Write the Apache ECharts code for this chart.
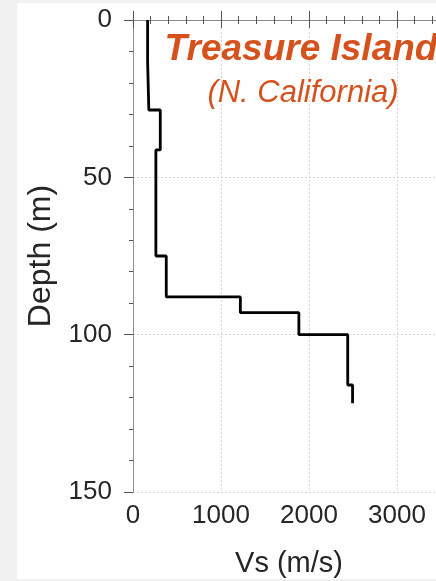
<!DOCTYPE html>
<html>
<head>
<meta charset="utf-8">
<style>
  html, body { margin: 0; padding: 0; background: #f1f1f1; }
  #chart { width: 436px; height: 581px; }
</style>
<script src="https://cdn.jsdelivr.net/npm/echarts@6/dist/echarts.min.js"></script>
</head>
<body>
<div id="chart"></div>
<script>
// Shear-wave velocity profile: one entry per layer
const layerTop    = [0,    13.2, 28.6, 41.3, 75,  88,   93,   100,  116];
const layerBottom = [13.2, 28.6, 41.3, 75,   88,  93,   100,  116,  121.8];
const layerVs     = [166,  180,  310,  260,  378, 1220, 1885, 2440, 2495];

const xTicks = [0, 1000, 2000, 3000];
const yTicks = [0, 50, 100, 150];

// Stair-step polyline through the layers (Vs, depth)
const profile = [];
layerVs.forEach(function (vs, i) {
  profile.push([vs, layerTop[i]]);
  profile.push([vs, layerBottom[i]]);
});

const FONT = '"Liberation Sans", Arial, sans-serif';
const axisGray = '#8a8a8a';
const gridGray = '#d6d6d6';
const textDark = '#262626';
const titleColor = '#d5521d';

const chart = echarts.init(document.getElementById('chart'), null, { renderer: 'canvas' });

chart.setOption({
  backgroundColor: '#f1f1f1',
  animation: false,
  graphic: [{
    type: 'rect',
    z: -10,
    shape: { x: 17, y: 3, width: 419, height: 576 },
    style: { fill: '#ffffff' }
  }],
  title: [{
    text: 'Treasure Island',
    left: 296, top: 26, textAlign: 'center',
    textStyle: { fontFamily: FONT, fontSize: 37, fontWeight: 'bold', fontStyle: 'italic', color: titleColor }
  }, {
    text: '(N. California)',
    left: 298, top: 73, textAlign: 'center',
    textStyle: { fontFamily: FONT, fontSize: 31, fontWeight: 'normal', fontStyle: 'italic', color: titleColor }
  }],
  grid: { left: 133, top: 20, width: 352, height: 472, containLabel: false, outerBoundsMode: 'none' },
  xAxis: [{
    type: 'value', position: 'bottom',
    min: xTicks[0], max: 4000, interval: 1000,
    name: 'Vs (m/s)', nameLocation: 'middle', nameGap: 57,
    nameTextStyle: { fontFamily: FONT, fontSize: 29, color: textDark, padding: [0, 40, 0, 0] },
    axisLine: { show: true, lineStyle: { color: axisGray, width: 1 } },
    axisTick: { show: true, inside: false, length: 8, lineStyle: { color: '#555' } },
    minorTick: { show: true, splitNumber: 5, length: 4, lineStyle: { color: '#555' } },
    axisLabel: { fontFamily: FONT, fontSize: 26, color: textDark, margin: 11,
      formatter: function (v) { return xTicks.indexOf(v) >= 0 ? String(v) : ''; } },
    splitLine: { show: true, lineStyle: { color: gridGray, type: [2, 2], width: 1 } }
  }, {
    type: 'value', position: 'top',
    min: xTicks[0], max: 4000, interval: 1000,
    axisLine: { show: true, lineStyle: { color: axisGray, width: 1 } },
    axisTick: { show: true, inside: false, length: 9, lineStyle: { color: '#555' } },
    minorTick: { show: true, splitNumber: 5, length: 4, lineStyle: { color: '#555' } },
    axisLabel: { show: false },
    splitLine: { show: false }
  }],
  yAxis: [{
    type: 'value', inverse: true,
    min: yTicks[0], max: yTicks[yTicks.length - 1], interval: 50,
    name: 'Depth (m)', nameLocation: 'middle', nameGap: 76, nameRotate: 90,
    nameTextStyle: { fontFamily: FONT, fontSize: 32, color: textDark },
    axisLine: { show: true, lineStyle: { color: axisGray, width: 1 } },
    axisTick: { show: true, inside: false, length: 9, lineStyle: { color: '#555' } },
    minorTick: { show: true, splitNumber: 5, length: 4, lineStyle: { color: '#555' } },
    axisLabel: { fontFamily: FONT, fontSize: 26, color: textDark, margin: 21 },
    splitLine: { show: true, lineStyle: { color: gridGray, type: [2, 2], width: 1 } }
  }],
  series: [{
    type: 'line',
    xAxisIndex: 0, yAxisIndex: 0,
    data: profile,
    showSymbol: false,
    symbol: 'none',
    lineStyle: { color: '#000000', width: 2.8 },
    z: 5
  }]
});
</script>
</body>
</html>
